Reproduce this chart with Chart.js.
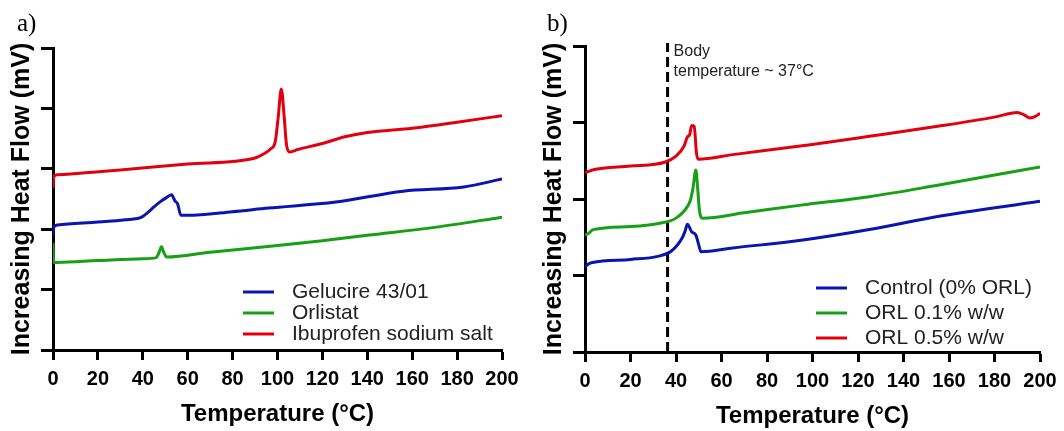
<!DOCTYPE html>
<html><head><meta charset="utf-8">
<script src="https://cdn.jsdelivr.net/npm/chart.js@4.4.1/dist/chart.umd.min.js"></script>
<style>
html,body{margin:0;padding:0;background:#fff;width:1064px;height:431px;overflow:hidden}
.panel{position:absolute;top:0;width:532px;height:431px}
#pa{left:0}#pb{left:532px}
.lbl{position:absolute;font-family:"Liberation Serif","Times New Roman",serif;font-size:25px;line-height:30px;color:#000}
</style></head><body>
<div class="panel" id="pa"><canvas id="ca" width="532" height="431"></canvas></div>
<div class="panel" id="pb"><canvas id="cb" width="532" height="431"></canvas></div>
<div class="lbl" style="left:17px;top:8px">a)</div>
<div class="lbl" style="left:547px;top:8px">b)</div>
<script>
// ---------- Panel a data ----------
const xTicks = [0, 20, 40, 60, 80, 100, 120, 140, 160, 180, 200];

const aGelT = [0, 0.3, 2, 20, 36, 39, 42, 45, 48, 50, 52.8, 54.3, 55.5, 57, 60, 80, 96, 126, 156, 183, 200];
const aGelV = [1.90, 2.03, 2.07, 2.12, 2.17, 2.19, 2.27, 2.37, 2.46, 2.51, 2.57, 2.47, 2.42, 2.23, 2.23, 2.29, 2.35, 2.45, 2.63, 2.70, 2.83];

const aOrlT = [0, 0.3, 2, 20, 40, 46, 47.3, 48.3, 49.3, 50.6, 70, 100, 120, 140, 170, 200];
const aOrlV = [1.77, 1.45, 1.45, 1.48, 1.51, 1.53, 1.62, 1.71, 1.62, 1.54, 1.62, 1.73, 1.81, 1.90, 2.03, 2.20];

const aIbuT = [0, 0.4, 2, 30, 60, 90, 94, 97, 99, 100.3, 101.7, 103, 104, 105.5, 109, 120, 130, 140, 160, 180, 200];
const aIbuV = [2.68, 2.87, 2.90, 2.98, 3.08, 3.18, 3.25, 3.33, 3.45, 3.85, 4.32, 3.85, 3.40, 3.28, 3.32, 3.42, 3.53, 3.60, 3.67, 3.77, 3.88];

const aLabels = ['Gelucire 43/01', 'Orlistat', 'Ibuprofen sodium salt'];

// ---------- Panel b data ----------
const bCtrlT = [0, 1.5, 3.3, 20, 32, 38, 42.7, 44, 45, 46.9, 48.7, 50, 51, 65, 95, 125, 155, 200];
const bCtrlV = [1.11, 1.15, 1.17, 1.21, 1.25, 1.32, 1.49, 1.58, 1.67, 1.57, 1.53, 1.40, 1.31, 1.36, 1.46, 1.60, 1.77, 1.97];

const bOrl1T = [0, 1.5, 3.6, 20, 34, 40, 45, 46.5, 47.5, 48.7, 49.5, 50.3, 51.7, 70, 95, 125, 155, 200];
const bOrl1V = [1.53, 1.55, 1.60, 1.64, 1.69, 1.75, 1.90, 2.00, 2.15, 2.38, 2.15, 1.85, 1.75, 1.82, 1.92, 2.03, 2.18, 2.42];

const bOrl5T = [0, 1.5, 3.3, 20, 35, 40, 43.5, 45, 46, 46.9, 48, 49, 49.8, 65, 99, 125, 155, 180, 190, 193, 195.5, 198, 200];
const bOrl5V = [2.34, 2.36, 2.38, 2.43, 2.48, 2.56, 2.69, 2.81, 2.84, 2.96, 2.95, 2.60, 2.52, 2.58, 2.71, 2.82, 2.95, 3.07, 3.13, 3.10, 3.06, 3.08, 3.12];

const bLabels = ['Control (0% ORL)', 'ORL 0.1% w/w', 'ORL 0.5% w/w'];

const bodyTemp = 36.3;
const bodyNote = ['Body', 'temperature ~ 37\u00B0C'];

const xTitle = 'Temperature (\u00B0C)';
const yTitle = 'Increasing Heat Flow (mV)';

// ---------- helpers ----------
const pts = (t, v) => t.map((x, i) => ({x: x, y: v[i]}));
const BLUE = '#0a14b0', GREEN = '#16a016', RED = '#e2000f';
const SANS = '"Liberation Sans", Arial, Helvetica, sans-serif';

function lineDs(label, t, v, color) {
  return {label, data: pts(t, v), borderColor: color, backgroundColor: color,
    borderWidth: 3, pointRadius: 0, fill: false, cubicInterpolationMode: 'monotone'};
}

const boxLegend = {
  id: 'boxLegend',
  afterDatasetsDraw(chart, args, o) {
    const ctx = chart.ctx;
    ctx.save();
    ctx.font = o.font;
    ctx.textBaseline = 'middle';
    o.items.forEach((di, i) => {
      const ds = chart.data.datasets[di];
      const y = o.y + i * o.gap;
      ctx.strokeStyle = ds.borderColor; ctx.lineWidth = 3;
      ctx.beginPath(); ctx.moveTo(o.x, y); ctx.lineTo(o.x + o.len, y); ctx.stroke();
      ctx.fillStyle = o.color;
      ctx.fillText(ds.label, o.textX, y);
    });
    ctx.restore();
  }
};

const noteText = {
  id: 'noteText',
  afterDatasetsDraw(chart, args, o) {
    if (!o.lines) return;
    const ctx = chart.ctx;
    const x = chart.scales.x.getPixelForValue(o.at) + o.dx;
    ctx.save();
    ctx.font = o.font; ctx.fillStyle = o.color; ctx.textBaseline = 'middle';
    o.lines.forEach((s, i) => ctx.fillText(s, x, o.y + i * o.gap));
    ctx.restore();
  }
};

function makeOpts(cfg) {
  return {
    responsive: false, animation: false, devicePixelRatio: 1,
    layout: {padding: {left: 0, right: cfg.padR, top: cfg.padT, bottom: 0}},
    plugins: {legend: {display: false}, tooltip: {enabled: false},
      boxLegend: cfg.legend, noteText: cfg.note || {}},
    scales: {
      x: {
        type: 'linear', min: 0, max: 200,
        afterBuildTicks: s => { s.ticks = xTicks.map(v => ({value: v})); },
        afterFit: s => { s.height = cfg.xH; },
        grid: {display: true, drawOnChartArea: false, drawTicks: true, tickLength: 10, tickWidth: 3, tickColor: '#000', color: '#000'},
        border: {display: true, width: 3, color: '#000'},
        ticks: {color: '#000', font: {family: SANS, size: 20, weight: 'bold'}, padding: 7, maxRotation: 0, autoSkip: false},
        title: {display: true, text: xTitle, color: '#000', font: {family: SANS, size: 24, weight: 'bold'}, padding: {top: 0, bottom: cfg.xTitlePad}}
      },
      y: {
        type: 'linear', min: 0, max: cfg.yMax,
        ticks: {display: false, stepSize: 1},
        afterFit: s => { s.width = cfg.yW; },
        grid: {display: true, drawOnChartArea: false, drawTicks: true, tickLength: 12, tickWidth: 3, tickColor: '#000', color: '#000'},
        border: {display: true, width: 3, color: '#000'},
        title: {display: true, text: yTitle, color: '#000', font: {family: SANS, size: 25, weight: 'bold'}, padding: {top: 7, bottom: 0}}
      }
    }
  };
}

new Chart(document.getElementById('ca'), {
  type: 'line',
  data: {datasets: [
    lineDs(aLabels[0], aGelT, aGelV, BLUE),
    lineDs(aLabels[1], aOrlT, aOrlV, GREEN),
    lineDs(aLabels[2], aIbuT, aIbuV, RED)
  ]},
  options: makeOpts({padR: 30, padT: 48, xH: 81, yW: 53, yMax: 5, xTitlePad: 2,
    legend: {items: [0, 1, 2], x: 243, len: 31, textX: 292, y: 292, gap: 21, font: '21px ' + SANS, color: '#222'}}),
  plugins: [boxLegend]
});

new Chart(document.getElementById('cb'), {
  type: 'line',
  data: {datasets: [
    lineDs(bLabels[0], bCtrlT, bCtrlV, BLUE),
    lineDs(bLabels[1], bOrl1T, bOrl1V, GREEN),
    lineDs(bLabels[2], bOrl5T, bOrl5V, RED),
    {label: 'Body temperature', data: [{x: bodyTemp, y: 0}, {x: bodyTemp, y: 4.04}], borderColor: '#000',
     borderWidth: 3, borderDash: [10, 5], pointRadius: 0, clip: false}
  ]},
  options: makeOpts({padR: 24, padT: 46, xH: 79, yW: 53, yMax: 4, xTitlePad: 0,
    legend: {items: [0, 1, 2], x: 284, len: 31, textX: 333, y: 288, gap: 25, font: '21px ' + SANS, color: '#222'},
    note: {lines: bodyNote, at: bodyTemp, dx: 6, y: 52, gap: 20, font: '16px ' + SANS, color: '#222'}}),
  plugins: [boxLegend, noteText]
});
</script>
</body></html>
